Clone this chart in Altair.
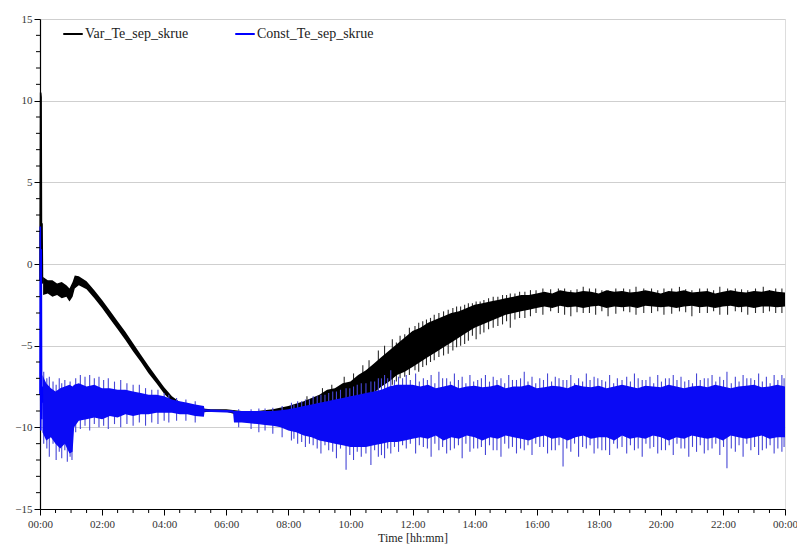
import altair as alt
import pandas as pd

# ---------------- data (hours since 00:00, value) ----------------
SERIES = ["Var_Te_sep_skrue", "Const_Te_sep_skrue"]

# Var_Te_sep_skrue (black) : dense band (upper / lower edge)
BLACK_T = [0.10, 0.25, 0.40, 0.55, 0.70, 0.85, 0.95, 1.05, 1.12, 1.25, 1.5, 1.75, 2.0, 2.25, 2.5, 2.75,
           3.0, 3.25, 3.5, 3.75, 4.0, 4.25, 4.5, 4.75, 5.0, 5.5, 6.0, 6.5, 7.0, 7.5, 8.0, 8.5, 9.0, 9.25,
           9.5, 9.75, 10.0, 10.25, 10.5, 10.75, 11.0, 11.25, 11.5, 11.75, 12.0, 12.25, 12.5, 12.75, 13.0,
           13.25, 13.5, 13.75, 14.0, 14.25, 14.5, 14.75, 15.0, 15.25, 15.5, 15.75, 16.0,
           16.25, 16.5, 16.75, 17.0, 17.25, 17.5, 17.75, 18.0, 18.25, 18.5, 18.75, 19.0, 19.25, 19.5, 19.75,
           20.0, 20.25, 20.5, 20.75, 21.0, 21.25, 21.5, 21.75, 22.0, 22.25, 22.5, 22.75, 23.0, 23.25, 23.5,
           23.75, 24.0]
BLACK_TOP = [-0.8, -1.0, -1.0, -1.2, -1.1, -1.3, -1.5, -1.1, -0.7, -0.75, -1.05, -1.6, -2.2, -2.85, -3.5,
             -4.15, -4.85, -5.55, -6.25, -6.9, -7.55, -8.1, -8.45, -8.7, -8.8, -8.9, -8.9, -9.0, -9.0, -8.9,
             -8.7, -8.4, -8.0, -7.7, -7.6, -7.3, -7.2, -6.8, -6.5, -6.1, -5.7, -5.3, -4.9, -4.5, -4.1, -3.9,
             -3.6, -3.4, -3.2, -3.0, -2.9, -2.7, -2.5, -2.4, -2.3, -2.2, -2.1, -2.0, -1.9, -1.9, -1.8,
             -1.7, -1.8, -1.6, -1.7, -1.75, -1.65, -1.7, -1.8, -1.6, -1.7, -1.65, -1.75, -1.7, -1.6, -1.7,
             -1.8, -1.65, -1.7, -1.6, -1.75, -1.7, -1.65, -1.8, -1.7, -1.6, -1.7, -1.75, -1.65, -1.7, -1.6,
             -1.7, -1.75]
BLACK_BOT = [-1.9, -1.8, -2.0, -1.9, -2.1, -2.0, -2.3, -2.0, -1.5, -1.3, -1.55, -2.1, -2.7, -3.35, -4.0,
             -4.65, -5.35, -6.0, -6.7, -7.3, -7.95, -8.45, -8.75, -9.0, -9.1, -9.05, -9.05, -9.3, -9.4, -9.5,
             -9.6, -9.5, -9.3, -9.2, -9.0, -8.9, -8.8, -8.5, -8.2, -7.9, -7.5, -7.2, -6.8, -6.6, -6.3, -6.0,
             -5.7, -5.4, -5.1, -4.8, -4.5, -4.2, -3.9, -3.7, -3.5, -3.3, -3.1, -3.0, -2.9, -2.8, -2.7,
             -2.6, -2.7, -2.55, -2.65, -2.6, -2.7, -2.6, -2.55, -2.7, -2.6, -2.65, -2.6, -2.7, -2.55, -2.6,
             -2.65, -2.6, -2.7, -2.6, -2.55, -2.65, -2.6, -2.7, -2.6, -2.55, -2.65, -2.6, -2.7, -2.6, -2.6,
             -2.65, -2.6]

# Const_Te_sep_skrue (blue) : dense band
BLUE_T = [0.08, 0.2, 0.35, 0.5, 0.65, 0.8, 0.95, 1.05, 1.1, 1.25, 1.5, 1.75, 2.0, 2.25, 2.5, 2.75, 3.0,
          3.25, 3.5, 3.75, 4.0, 4.25, 4.5, 4.75, 5.0, 5.28, 5.30, 6.22, 6.25, 6.5, 6.75, 7.0, 7.25, 7.5,
          7.75, 8.0, 8.25, 8.5, 8.75, 9.0, 9.25, 9.5, 9.75, 10.0, 10.25, 10.5, 10.75, 11.0, 11.25, 11.5,
          11.75, 12.0,
          12.25, 12.5, 12.75, 13.0, 13.25, 13.5, 13.75, 14.0, 14.25, 14.5, 14.75, 15.0, 15.25, 15.5, 15.75,
          16.0, 16.25, 16.5, 16.75, 17.0, 17.25, 17.5, 17.75, 18.0, 18.25, 18.5, 18.75, 19.0, 19.25, 19.5,
          19.75, 20.0, 20.25, 20.5, 20.75, 21.0, 21.25, 21.5, 21.75, 22.0, 22.25, 22.5, 22.75, 23.0, 23.25,
          23.5, 23.75, 24.0]
BLUE_TOP = [-6.8, -7.3, -7.6, -7.8, -7.6, -7.5, -7.4, -7.5, -7.4, -7.3, -7.5, -7.4, -7.6, -7.6, -7.7, -7.7,
            -7.8, -7.9, -8.0, -8.0, -8.1, -8.3, -8.4, -8.5, -8.6, -8.7, -8.9, -8.95, -9.0, -9.0, -9.0, -9.0,
            -9.0, -9.0, -8.95, -8.9, -8.8, -8.7, -8.6, -8.5, -8.4, -8.3, -8.2, -8.1, -8.0, -7.9, -7.8, -7.7,
            -7.5, -7.4, -7.4, -7.4,
            -7.5, -7.4, -7.6, -7.5, -7.4, -7.6, -7.5, -7.45, -7.55, -7.5, -7.4, -7.6, -7.5, -7.5, -7.4, -7.6,
            -7.55, -7.45, -7.5, -7.6, -7.4, -7.5, -7.55, -7.45, -7.6, -7.5, -7.4, -7.5, -7.6, -7.45, -7.5,
            -7.55, -7.4, -7.5, -7.6, -7.5, -7.45, -7.55, -7.4, -7.5, -7.6, -7.5, -7.45, -7.4, -7.55, -7.5,
            -7.4, -7.5]
BLUE_BOT = [-10.3, -10.8, -10.6, -11.0, -11.3, -11.0, -11.6, -11.5, -10.0, -9.6, -9.5, -9.4, -9.5, -9.3,
            -9.4, -9.2, -9.3, -9.2, -9.2, -9.1, -9.1, -9.1, -9.2, -9.2, -9.3, -9.35, -9.05, -9.1, -9.7, -9.7,
            -9.75, -9.8, -9.85, -9.9, -10.0, -10.2, -10.3, -10.5, -10.6, -10.8, -10.9, -11.0, -11.1, -11.2,
            -11.2, -11.2, -11.1, -11.0, -10.9, -10.9, -10.8, -10.7,
            -10.6, -10.7, -10.5, -10.8, -10.6, -10.7, -10.5, -10.6, -10.8, -10.6, -10.7, -10.5, -10.6, -10.7,
            -10.8, -10.6, -10.5, -10.7, -10.6, -10.8, -10.6, -10.5, -10.7, -10.6, -10.6, -10.8, -10.5, -10.7,
            -10.6, -10.7, -10.5, -10.6, -10.8, -10.6, -10.7, -10.5, -10.6, -10.7, -10.6, -10.8, -10.5, -10.6,
            -10.7, -10.6, -10.5, -10.7, -10.6, -10.6]

# individual spikes beyond the dense band (time, low end, high end)
BLACK_SPIKE_T = [8.6, 9.1, 9.4, 9.8, 10.1, 10.4, 10.6, 10.9, 11.1, 11.35, 11.6, 11.9, 12.2, 12.45, 12.7,
                 13.0, 13.3, 13.55, 13.8, 14.05, 14.3, 14.6, 14.9, 15.15, 15.45, 15.8, 16.2, 16.7, 17.1,
                 17.5, 17.9, 18.3, 18.8, 19.2, 19.7, 20.1, 20.6, 21.0, 21.5, 21.9, 22.4, 22.8, 23.3, 23.7,
                 11.48, 11.75, 12.08, 12.33, 12.58, 12.85, 13.15, 13.42, 13.68, 13.93, 14.18, 14.45, 14.75,
                 15.03, 15.3, 15.62, 15.98, 16.45, 16.9, 17.3, 17.7, 18.1, 18.55, 19.0, 19.45, 19.9, 20.35,
                 20.8, 21.25, 21.7, 22.15, 22.6, 23.05, 23.5, 23.9]
BLACK_SPIKE_LO = [-9.0, -9.2, -9.0, -8.9, -8.8, -8.5, -8.4, -7.8, -7.6, -7.4, -7.0, -6.8, -6.6, -6.2, -5.9,
                  -5.6, -5.3, -5.0, -4.7, -4.6, -4.2, -3.9, -3.7, -3.9, -3.3, -3.2, -3.1, -3.0, -3.2,
                  -3.0, -3.1, -3.2, -2.9, -3.1, -3.0, -3.1, -2.9, -3.2, -3.0, -3.1, -2.9, -3.1, -3.0, -3.0,
                  -7.2, -6.9, -6.5, -6.3, -6.0, -5.7, -5.5, -5.1, -4.9, -4.4, -4.3, -4.0, -3.8,
                  -3.5, -3.4, -3.3, -3.0, -2.9, -3.1, -2.95, -3.0, -2.9, -3.05, -2.95, -3.0, -2.9, -3.05,
                  -2.95, -3.0, -2.9, -3.1, -2.95, -3.0, -2.9, -3.0]
BLACK_SPIKE_HI = [-8.1, -7.6, -7.4, -6.9, -6.7, -6.2, -5.9, -5.3, -5.0, -4.6, -4.4, -3.9, -3.6, -3.4, -3.1,
                  -2.9, -2.7, -2.6, -2.4, -2.3, -2.2, -2.0, -1.9, -1.8, -1.7, -1.6, -1.5, -1.5, -1.6,
                  -1.4, -1.5, -1.6, -1.5, -1.4, -1.5, -1.5, -1.4, -1.6, -1.5, -1.4, -1.5, -1.6, -1.4, -1.5,
                  -4.8, -4.3, -3.8, -3.5, -3.3, -3.0, -2.8, -2.6, -2.5, -2.4, -2.3, -2.1, -2.0,
                  -1.9, -1.8, -1.7, -1.6, -1.55, -1.5, -1.55, -1.5, -1.6, -1.5, -1.55, -1.5, -1.6, -1.5,
                  -1.55, -1.5, -1.6, -1.5, -1.55, -1.5, -1.6, -1.5]

BLUE_SPIKE_T = [0.12, 0.22, 0.3, 0.42, 0.52, 0.62, 0.7, 0.8, 0.88, 0.97, 1.03, 1.15, 1.3, 1.45, 1.6, 1.75,
                1.9, 2.05, 2.2, 2.4, 2.6, 2.8, 3.0, 3.2, 3.4, 3.6, 3.8, 4.0, 4.15, 4.4, 4.7, 5.0, 6.4, 6.8,
                7.05, 7.25, 7.5, 7.8, 8.1, 8.3, 8.55, 8.8, 9.05, 9.3, 9.55, 9.86, 10.1, 10.35, 10.66, 10.9,
                11.1, 11.3, 11.55, 11.8, 12.1, 12.35, 12.6, 12.85, 13.1, 13.35, 13.6, 13.85, 14.1, 14.35,
                14.6, 14.85, 15.1, 15.35, 15.6, 15.85, 16.1, 16.35, 16.6, 16.85, 17.1, 17.35, 17.6, 17.85,
                18.1, 18.35, 18.6, 18.9, 19.15, 19.4, 19.65, 19.9, 20.15, 20.4, 20.65, 20.9, 21.15, 21.4,
                21.65, 21.9, 22.13, 22.4, 22.65, 22.9, 23.15, 23.4, 23.65, 23.9,
                8.18, 8.43, 8.68, 8.93, 9.18, 9.43, 9.68, 9.98, 10.22, 10.5, 10.78, 11.0, 11.2, 11.42, 11.68,
                11.93, 12.22, 12.48, 12.72, 12.97, 13.22, 13.48, 13.72, 13.97, 14.22, 14.48, 14.72, 14.97,
                15.22, 15.48, 15.72, 15.97, 16.22, 16.48, 16.72, 16.97, 17.22, 17.48, 17.72, 17.97, 18.22,
                18.48, 18.75, 19.02, 19.27, 19.52, 19.77, 20.02, 20.27, 20.52, 20.77, 21.02, 21.27, 21.52,
                21.77, 22.02, 22.27, 22.52, 22.77, 23.02, 23.27, 23.52, 23.77, 23.97]
BLUE_SPIKE_LO = [-11.0, -11.3, -11.8, -11.0, -12.0, -11.5, -11.9, -11.4, -12.1, -11.8, -12.0, -10.3, -10.1,
                 -9.9, -10.2, -9.8, -10.0, -9.9, -10.1, -9.8, -10.0, -9.8, -9.9, -9.7, -9.9, -9.7, -9.8,
                 -9.6, -9.7, -9.6, -9.6, -9.7, -10.0, -10.1, -10.3, -10.2, -10.4, -10.6, -10.8, -11.0,
                 -11.2, -11.1, -11.6, -11.4, -11.9, -12.6, -12.0, -11.8, -12.3, -11.8, -11.9, -11.6, -11.5,
                 -11.3, -11.6, -11.2, -11.8, -11.4, -11.6, -11.3, -11.9, -11.5, -11.3, -11.7, -11.4, -11.8,
                 -11.3, -11.6, -11.4, -11.7, -11.2, -11.6, -11.4, -12.4, -11.5, -11.8, -11.3, -11.6, -11.4,
                 -11.7, -11.3, -11.6, -11.4, -11.8, -11.3, -11.6, -11.4, -11.7, -11.3, -11.8, -11.5, -11.6,
                 -11.3, -11.7, -12.5, -11.5, -11.8, -11.4, -11.7, -11.3, -11.6, -11.5,
                 -10.7, -10.9, -11.0, -11.3, -11.1, -11.5, -11.3, -11.7, -11.5, -11.6, -11.4, -11.7, -11.3,
                 -11.2, -11.1, -11.0, -11.1, -11.3, -11.0, -11.2, -11.4, -11.1, -11.0, -11.3, -11.2, -11.1,
                 -11.4, -11.0, -11.2, -11.3, -11.1, -11.0, -11.2, -11.4, -11.1, -11.3, -11.0, -11.2, -11.1,
                 -11.3, -11.4, -11.0, -11.2, -11.1, -11.3, -11.0, -11.2, -11.4, -11.1, -11.0, -11.3, -11.2,
                 -11.1, -11.4, -11.0, -11.2, -11.3, -11.1, -11.0, -11.2, -11.4, -11.1, -11.3, -11.2]
BLUE_SPIKE_HI = [-6.6, -7.0, -6.9, -7.2, -7.4, -7.0, -7.3, -7.1, -7.5, -7.2, -7.6, -7.0, -6.8, -6.9, -6.8,
                 -7.0, -6.9, -7.1, -7.0, -7.2, -7.1, -7.3, -7.4, -7.4, -7.6, -7.7, -7.7, -7.9, -8.0, -8.2,
                 -8.3, -8.4, -8.9, -8.9, -8.85, -8.85, -8.8, -8.7, -8.5, -8.4, -8.3, -8.1, -8.0, -7.9, -7.8,
                 -7.6, -7.5, -7.3, -7.2, -7.0, -6.8, -6.5, -6.9, -6.8, -6.7, -7.0, -6.8, -6.6, -7.0, -6.7,
                 -6.9, -6.8, -7.1, -6.8, -6.9, -7.0, -6.8, -7.1, -6.6, -6.9, -7.0, -6.7, -6.9, -7.1, -6.8,
                 -7.0, -6.7, -6.9, -7.1, -6.8, -7.0, -6.9, -6.7, -7.1, -6.9, -6.8, -7.0, -6.8, -6.9, -7.1,
                 -6.7, -7.0, -6.8, -6.9, -6.6, -6.9, -6.8, -7.0, -6.7, -6.9, -6.8, -6.8,
                 -8.6, -8.4, -8.3, -8.1, -8.0, -7.8, -7.7, -7.6, -7.4, -7.3, -7.2, -7.0, -7.0, -7.1, -7.0,
                 -7.1, -7.2, -7.1, -7.3, -7.0, -7.2, -7.1, -7.3, -7.2, -7.0, -7.2, -7.1, -7.3, -7.1, -7.0,
                 -7.2, -7.3, -7.1, -7.2, -7.0, -7.1, -7.3, -7.2, -7.1, -7.0, -7.2, -7.3, -7.1, -7.2, -7.0,
                 -7.1, -7.3, -7.2, -7.0, -7.1, -7.2, -7.3, -7.1, -7.0, -7.2, -7.1, -7.3, -7.2, -7.0, -7.1,
                 -7.2, -7.3, -7.1, -7.0]

# start-up transient (single samples)
TRANS_BLACK_T = [0.0, 0.02, 0.035, 0.05, 0.065, 0.08, 0.1]
TRANS_BLACK_V = [-1.0, 10.5, 10.2, -0.5, 2.5, -1.2, -1.0]
TRANS_BLUE_T = [0.0, 0.01, 0.025, 0.04, 0.055, 0.07, 0.08]
TRANS_BLUE_V = [-8.0, 2.3, -10.2, 0.9, -9.5, -7.5, -8.5]

X_MAJOR = [0, 2, 4, 6, 8, 10, 12, 14, 16, 18, 20, 22, 24]
X_MINOR = [0.5, 1, 1.5, 2.5, 3, 3.5, 4.5, 5, 5.5, 6.5, 7, 7.5, 8.5, 9, 9.5, 10.5, 11, 11.5, 12.5, 13,
           13.5, 14.5, 15, 15.5, 16.5, 17, 17.5, 18.5, 19, 19.5, 20.5, 21, 21.5, 22.5, 23, 23.5]
Y_MAJOR = [-15, -10, -5, 0, 5, 10, 15]
Y_MINOR = [-14, -13, -12, -11, -9, -8, -7, -6, -4, -3, -2, -1, 1, 2, 3, 4, 6, 7, 8, 9, 11, 12, 13, 14]

# ---------------- tables ----------------
black_band = pd.DataFrame({"t": BLACK_T, "top": BLACK_TOP, "bot": BLACK_BOT})
blue_band = pd.DataFrame({"t": BLUE_T, "top": BLUE_TOP, "bot": BLUE_BOT})
black_sp = pd.DataFrame({"t": BLACK_SPIKE_T, "lo": BLACK_SPIKE_LO, "hi": BLACK_SPIKE_HI})
blue_sp = pd.DataFrame({"t": BLUE_SPIKE_T, "lo": BLUE_SPIKE_LO, "hi": BLUE_SPIKE_HI})
trans = pd.concat([
    pd.DataFrame({"t": TRANS_BLACK_T, "v": TRANS_BLACK_V, "series": SERIES[0]}),
    pd.DataFrame({"t": TRANS_BLUE_T, "v": TRANS_BLUE_V, "series": SERIES[1]}),
])
xminor = pd.DataFrame({"t": X_MINOR})
yminor = pd.DataFrame({"v": Y_MINOR})

W, H = 745, 490
FONT = "Liberation Serif"

xscale = alt.Scale(domain=[0, 24], nice=False, zero=False)
yscale = alt.Scale(domain=[-15, 15], nice=False, zero=False)

x_axis = alt.Axis(values=X_MAJOR, title="Time [hh:mm]",
                  labelExpr="(datum.value % 24 < 10 ? '0' : '') + (datum.value % 24) + ':00'",
                  grid=False, tickSize=6, tickColor="#000", domainColor="#000", domainWidth=1.2,
                  labelFont=FONT, labelFontSize=11, labelColor="#333", labelPadding=3,
                  titleFont=FONT, titleFontSize=12, titleFontWeight="normal", titleColor="#222",
                  titlePadding=3, labelFlush=False)
y_axis = alt.Axis(values=Y_MAJOR, title=None, grid=True, gridColor="#cfcfcf", gridWidth=1.2,
                  tickSize=6, tickColor="#000", domainColor="#000", domainWidth=1.2,
                  labelFont=FONT, labelFontSize=11, labelColor="#333", labelPadding=2)


def X(field="t"):
    return alt.X(f"{field}:Q", scale=xscale, axis=x_axis)


def Y(field):
    return alt.Y(f"{field}:Q", scale=yscale, axis=y_axis)


black_spikes = alt.Chart(black_sp).mark_rule(color="#2a2a2a", strokeWidth=1.1).encode(
    x=X(), y=Y("lo"), y2="hi:Q")
black_core = alt.Chart(black_band).mark_area(color="#000000", opacity=1).encode(
    x=X(), y=Y("top"), y2="bot:Q")
blue_spikes = alt.Chart(blue_sp).mark_rule(color="#4646d6", strokeWidth=1.1).encode(
    x=X(), y=Y("lo"), y2="hi:Q")
blue_core = alt.Chart(blue_band).mark_area(color="#0a0af5", opacity=1).encode(
    x=X(), y=Y("top"), y2="bot:Q")

trans_lines = alt.Chart(trans).mark_line(strokeWidth=1.6).encode(
    x=X(), y=Y("v"),
    color=alt.Color("series:N", sort=SERIES,
                    scale=alt.Scale(domain=SERIES, range=["#000000", "#0000ff"]),
                    legend=alt.Legend(title=None, orient="none", legendX=22, legendY=4,
                                      direction="horizontal", symbolType="stroke",
                                      symbolSize=380, symbolStrokeWidth=2, labelOffset=1,
                                      columnPadding=42, labelFont=FONT, labelFontSize=14,
                                      labelColor="#222")),
    detail="series:N")

x_minor_ticks = alt.Chart(xminor).mark_rule(color="#000", strokeWidth=1).encode(
    x=X(), y=alt.value(H), y2=alt.value(H + 4))
y_minor_ticks = alt.Chart(yminor).mark_rule(color="#000", strokeWidth=1).encode(
    y=Y("v"), x=alt.value(-4), x2=alt.value(0))

chart = alt.layer(
    black_spikes, black_core, blue_spikes, blue_core, trans_lines, x_minor_ticks, y_minor_ticks
).properties(
    width=W, height=H,
    autosize=alt.AutoSizeParams(type="none"),
    padding={"left": 32, "top": 11, "right": 12, "bottom": 37}
).configure_view(
    stroke="#a0a0a0", strokeWidth=2
).configure(background="white")

chart.save("out.html", embed_options={"renderer": "svg", "actions": False})
